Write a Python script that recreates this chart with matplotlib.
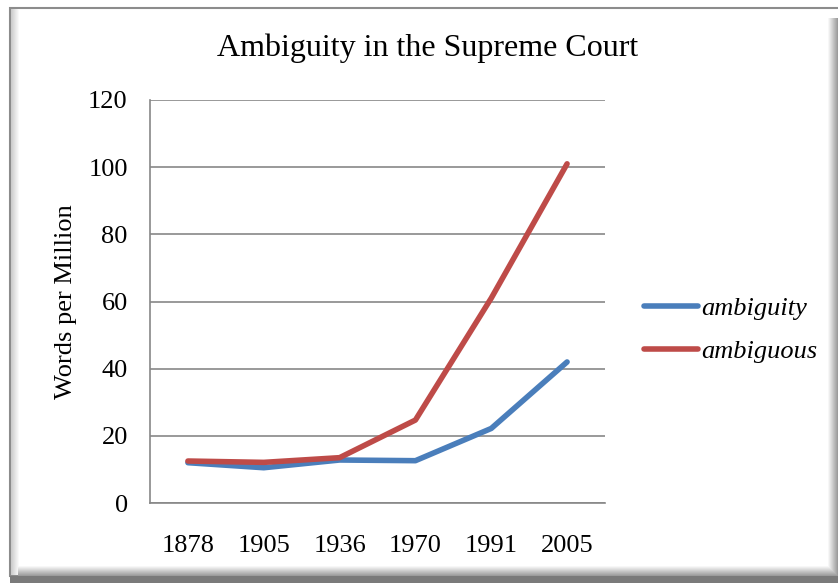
import matplotlib
matplotlib.use('Agg')
import matplotlib.pyplot as plt
from matplotlib.patches import Rectangle
import numpy as np

years = ['1878', '1905', '1936', '1970', '1991', '2005']
ambiguity = [12.0, 10.5, 12.8, 12.6, 22.2, 42.0]
ambiguous = [12.5, 12.1, 13.5, 24.7, 61.0, 101.0]

plt.rcParams['font.family'] = ['Liberation Serif', 'DejaVu Serif']

fig = plt.figure(figsize=(8.38, 5.83), dpi=100)
W, H = 838, 583

# frame with bevel shadow, in pixel coords
bg = fig.add_axes([0, 0, 1, 1])
bg.set_xlim(0, W)
bg.set_ylim(H, 0)
bg.axis('off')
bg.add_patch(Rectangle((10, 8), 840, 568, facecolor='white', edgecolor='#8c8c8c', lw=1.5))
# left inner light bevel
for i in range(8):
    g = 0.80 + i * 0.025
    bg.add_patch(Rectangle((11 + i, 9), 1, 566, facecolor=(g, g, g), lw=0))
# right and bottom darker shadow
for i in range(10):
    g = 0.97 - i * 0.04
    bg.add_patch(Rectangle((828 + i, 18), 1, 558, facecolor=(g, g, g), lw=0))
    bg.add_patch(Rectangle((18, 566 + i), 822, 1, facecolor=(g, g, g), lw=0))
bg.add_patch(Rectangle((10, 576), 830, 7, facecolor='#7a7a7a', lw=0))

ax = fig.add_axes([150 / W, 1 - 503 / H, 455 / W, 403 / H])
x = np.arange(len(years))
ax.plot(x, ambiguity, color='#4a7ebb', lw=4, solid_capstyle='round', label='ambiguity')
ax.plot(x, ambiguous, color='#be4b48', lw=4, solid_capstyle='round', label='ambiguous')

ax.set_xlim(-0.5, len(years) - 0.5)
ax.set_ylim(0, 120)
ax.set_yticks(range(0, 121, 20))
ax.set_xticks(x)
ax.set_xticklabels(years)
ax.yaxis.grid(True, color='#878787', lw=1.2)
ax.set_axisbelow(True)
for s in ['top', 'right']:
    ax.spines[s].set_visible(False)
for s in ['left', 'bottom']:
    ax.spines[s].set_color('#878787')
    ax.spines[s].set_linewidth(1.2)
ax.tick_params(length=0, labelsize=19)
ax.tick_params(axis='y', pad=16)
ax.tick_params(axis='x', pad=23)
ax.set_ylabel('Words per Million', fontsize=19, labelpad=8)

fig.text(428 / W, 1 - 48 / H, 'Ambiguity in the Supreme Court', ha='center', va='center', fontsize=23)

leg = ax.legend(loc='center left', bbox_to_anchor=(644 / W, 1 - 330 / H),
                bbox_transform=fig.transFigure, frameon=False,
                borderpad=0, borderaxespad=0,
                prop={'style': 'italic', 'size': 19}, handlelength=2.05,
                handletextpad=0.1, labelspacing=0.75)

fig.savefig('out.png', dpi=100)
